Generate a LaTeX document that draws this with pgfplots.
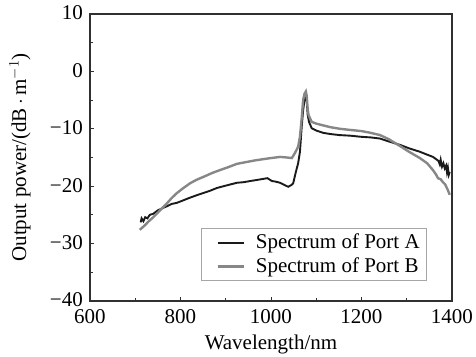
\documentclass[border=0pt]{standalone}
\usepackage{pgfplots}
\pgfplotsset{compat=1.18}
\usepackage{fontspec}
\setmainfont{Liberation Serif}
\definecolor{portA}{HTML}{1A1A1A}
\definecolor{portB}{HTML}{878787}
\definecolor{axcol}{HTML}{303030}
\begin{document}
\fontsize{21bp}{24bp}\selectfont
\begin{tikzpicture}
\begin{axis}[
  name=ax,
  scale only axis,
  width=362bp, height=287bp,
  xmin=600, xmax=1400, ymin=-40, ymax=10,
  xtick={600,800,1000,1200,1400},
  xticklabels={600,800,1000,1200,1400},
  ytick={-40,-30,-20,-10,0,10},
  yticklabels={−40,−30,−20,−10,0,10},
  minor x tick num=1, minor y tick num=1,
  tick pos=left,
  tick align=inside,
  major tick length=4bp, minor tick length=3bp,
  axis line style={axcol, line width=1.1pt},
  every tick/.style={axcol, line width=0.9pt},
  tick label style={font=\fontsize{21bp}{24bp}\selectfont},
  xticklabel style={yshift=-1bp},
  yticklabel style={yshift=1bp},
  label style={font=\fontsize{21bp}{24bp}\selectfont},
  xlabel={Wavelength/nm},
  ylabel={Output power/(dB\,$\cdot$\,m$^{-1}$)},
  xlabel style={at={(axis description cs:0.5,0)}, anchor=center, yshift=-43bp},
  ylabel style={at={(axis description cs:-0.1934,0.5)}, anchor=center},
  legend style={at={(0.931,0.07)}, anchor=south east, draw=gray!70, line width=0.6pt,
    font=\fontsize{21bp}{24bp}\selectfont, inner xsep=5bp, inner ysep=3bp, row sep=2bp},
  legend cell align=left,
  legend image code/.code={\path (0bp,0bp) (45bp,0bp); \draw[#1] (10bp,0bp) -- (36bp,0bp);},
]
\addplot[portA, line width=1.9bp] coordinates {
(712,-26.3)(714,-25.6)(718,-26.1)(722,-25.4)(727,-25.6)(732,-25.0)(740,-24.8)(750,-24.2)(761,-23.8)(770,-23.5)
(780,-23.1)(792,-22.9)(805,-22.5)(821,-22.0)(835,-21.6)(850,-21.2)(865,-20.8)(881,-20.3)(900,-19.9)
(925,-19.4)(940,-19.3)(954,-19.1)(970,-18.9)(985,-18.7)(992,-18.6)(1002,-19.1)(1010,-19.2)(1020,-19.4)
(1030,-19.8)(1038,-20.1)(1045,-19.8)(1049,-19.5)(1055,-17.5)(1060,-16.0)(1064,-14.0)(1068,-9.5)
(1071,-6.8)(1074,-5.0)(1077,-4.6)(1079,-5.2)(1081,-7.5)(1084,-8.8)(1090,-9.9)(1100,-10.3)(1115,-10.7)
(1130,-10.9)(1152,-11.1)(1175,-11.2)(1200,-11.4)(1220,-11.5)(1241,-11.7)(1260,-12.2)(1285,-12.8)
(1305,-13.4)(1329,-14.0)(1345,-14.5)(1358,-14.9)(1365,-15.3)(1370,-15.6)(1373,-16.2)(1375,-15.4)
(1378,-16.6)(1381,-16.0)(1384,-16.9)(1387,-16.4)(1389,-17.6)(1391,-16.8)(1393,-18.0)(1395,-17.5)
};
\addlegendentry{Spectrum of Port A}
\addplot[portB, line width=2.4bp] coordinates {
(710,-27.6)(720,-26.9)(730,-26.1)(740,-25.4)(755,-24.2)(770,-23.0)(780,-22.1)(792,-21.2)(805,-20.4)
(821,-19.5)(835,-18.9)(850,-18.4)(870,-17.7)(887,-17.2)(905,-16.7)(925,-16.1)(945,-15.8)(965,-15.5)
(982,-15.3)(1000,-15.1)(1020,-14.9)(1035,-15.0)(1046,-15.1)(1050,-14.6)(1053,-14.2)(1057,-13.6)
(1060,-13.1)(1064,-11.4)(1068,-8.0)(1071,-5.0)(1074,-3.9)(1077,-3.5)(1079,-4.3)(1081,-6.5)(1083,-7.6)
(1090,-8.8)(1100,-9.1)(1115,-9.4)(1130,-9.7)(1152,-10.0)(1175,-10.2)(1200,-10.4)(1220,-10.7)
(1241,-11.1)(1260,-11.8)(1285,-13.0)(1305,-14.0)(1329,-15.1)(1345,-16.0)(1358,-17.2)(1365,-18.0)
(1369,-18.6)(1375,-18.8)(1380,-19.3)(1385,-19.7)(1391,-20.7)(1395,-21.5)
};
\addlegendentry{Spectrum of Port B}
\end{axis}
\pgfresetboundingbox
\path[use as bounding box] ([xshift=-90bp,yshift=-56bp]ax.south west) rectangle ([xshift=24bp,yshift=14bp]ax.north east);
\end{tikzpicture}
\end{document}
